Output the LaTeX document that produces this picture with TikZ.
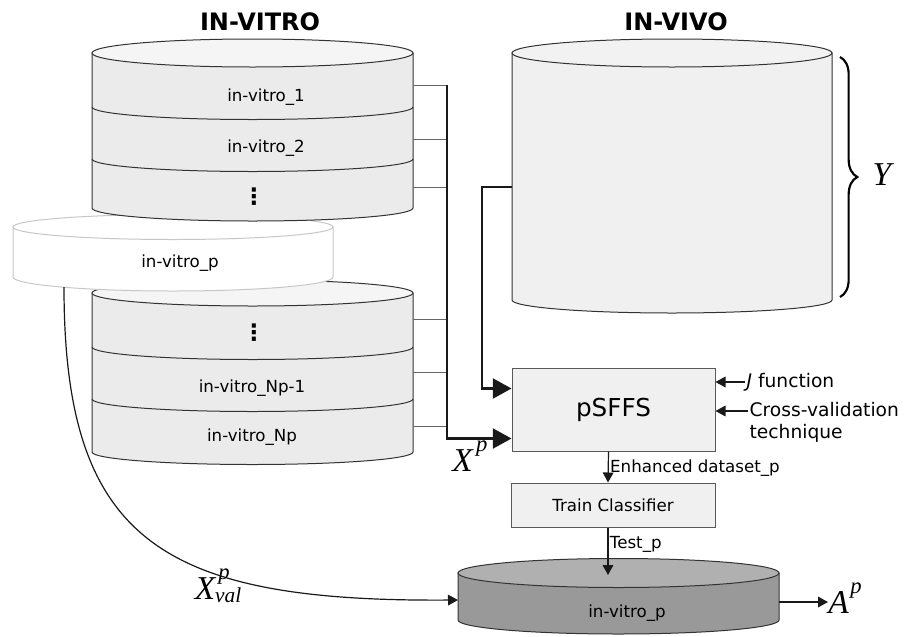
\documentclass[tikz,border=0pt]{standalone}
\usepackage{fontspec}
\setmainfont{DejaVu Sans}
\newfontfamily\varfont{Liberation Serif}
\usetikzlibrary{arrows.meta,decorations.pathreplacing}

\begin{document}
\begin{tikzpicture}[x=0.75pt, y=-0.75pt,
  cyl/.style={draw=black!80, line width=0.75pt},
  lbl/.style={font=\fontsize{12.5}{15}\selectfont, inner sep=1pt},
  dots/.style={font=\bfseries\fontsize{17}{17}\selectfont, inner sep=0pt},
  ttl/.style={font=\bfseries\fontsize{18}{20}\selectfont},
  sidelbl/.style={font=\fontsize{14}{16.5}\selectfont, inner sep=1pt, anchor=west, align=left},
  var/.style={font=\varfont\itshape\fontsize{25}{25}\selectfont, inner sep=0pt},
  box/.style={draw=black!65, fill=black!6, line width=0.75pt, font=\fontsize{12.5}{15}\selectfont},
  stub/.style={draw=black!60, line width=0.75pt},
  bus/.style={draw=black!90, line width=1.6pt, -{Triangle[length=14pt,width=15pt]}},
  arr/.style={draw=black!90, line width=0.9pt, -{Triangle[length=7.5pt,width=8pt]}},
  brc/.style={decorate, decoration={brace, amplitude=13pt}, line width=1.6pt}]
  \useasboundingbox (0,0) rectangle (907,636);

  % titles
  \node[ttl] (tvitro) at (260,22) {IN-VITRO};
  \node[ttl] (tvivo) at (676,22) {IN-VIVO};

  % lower in-vitro stack
  \path[cyl, fill=black!8] (92,293) -- (92,452) arc[start angle=180, end angle=0, x radius=160.5, y radius=12.5] -- (413,293) -- cycle;
  \draw[cyl] (92,347) arc[start angle=180, end angle=0, x radius=160.5, y radius=12.5];
  \draw[cyl] (92,399) arc[start angle=180, end angle=0, x radius=160.5, y radius=12.5];
  \path[cyl, fill=black!4] (252.5,293) ellipse[x radius=160.5, y radius=13];

  % the p-th dataset, taken out
  \path[draw=black!22, line width=0.75pt, fill=white] (13,227) -- (13,277) arc[start angle=180, end angle=0, x radius=160, y radius=14] -- (333,227) -- cycle;
  \path[draw=black!22, line width=0.75pt, fill=white] (173,227) ellipse[x radius=160, y radius=12.5];

  % upper in-vitro stack
  \path[cyl, fill=black!8] (92,53) -- (92,208) arc[start angle=180, end angle=0, x radius=160.5, y radius=13] -- (413,53) -- cycle;
  \draw[cyl] (92,107) arc[start angle=180, end angle=0, x radius=160.5, y radius=12.5];
  \draw[cyl] (92,159) arc[start angle=180, end angle=0, x radius=160.5, y radius=12.5];
  \path[cyl, fill=black!4] (252.5,53) ellipse[x radius=160.5, y radius=14];

  % in-vivo
  \path[cyl, fill=black!6] (512,53) -- (512,300) arc[start angle=180, end angle=0, x radius=160, y radius=13] -- (832,53) -- cycle;
  \path[cyl, fill=black!5] (672,53) ellipse[x radius=160, y radius=14];

  % validation set
  \path[cyl, fill=black!40] (458,573) -- (458,620) arc[start angle=180, end angle=0, x radius=160.5, y radius=14] -- (779,573) -- cycle;
  \path[cyl, fill=black!31] (618.5,573) ellipse[x radius=160.5, y radius=14.5];

  \node[lbl] (v1) at (266,97) {in-vitro\_1};
  \node[lbl] (v2) at (266,148) {in-vitro\_2};
  \node[dots] (vd1) at (254,197) {⋮};
  \node[lbl] (vp) at (180,263) {in-vitro\_p};
  \node[dots] (vd2) at (254,333) {⋮};
  \node[lbl] (vn1) at (252,388) {in-vitro\_Np-1};
  \node[lbl] (vn) at (252,437) {in-vitro\_Np};
  \node[lbl] (vval) at (627,613) {in-vitro\_p};

  \node[box, minimum width=152.25pt, minimum height=62.25pt, font=\fontsize{18.5}{20}\selectfont] (psffs) at (613.5,409.5) {pSFFS};
  \node[box, minimum width=153pt, minimum height=33pt] (train) at (613,505) {Train Classifier};

  \node[sidelbl] (jfun) at (745,382) {\textit{J} function};
  \node[sidelbl] (cv) at (748,422) {Cross-validation\\technique};

  \node[var] (xp) at (470,456) {X\kern0.1em\raisebox{0.6em}{\fontsize{17}{17}\selectfont p}};
  \node[var] (xval) at (218,586) {X\rlap{\kern0.1em\raisebox{0.6em}{\fontsize{17}{17}\selectfont p}}\raisebox{-0.1em}{\fontsize{16}{16}\selectfont val}};
  \node[var, anchor=west] (ap) at (828,598) {A\kern0.05em\raisebox{0.6em}{\fontsize{17}{17}\selectfont p}};
  \node[var] (ylbl) at (882,175) {Y};

  \coordinate (s1) at (413,85);
  \coordinate (s2) at (413,139);
  \coordinate (s3) at (413,187);
  \coordinate (s4) at (413,319);
  \coordinate (s5) at (413,372);
  \coordinate (s6) at (413,426);
  \coordinate (bus) at (447,85);
  \coordinate (vivo) at (512,187);
  \coordinate (cvin) at ([shift={(0,-11)}]cv.west);
  \coordinate (ptop) at (608,575);
  \coordinate (pleft) at (458,600);
  \coordinate (pright) at (779,602);
  \coordinate (pout) at (64,287);
  \coordinate (btop) at (840,57);
  \coordinate (bbot) at (840,297);

  \draw[stub] (s1) -- (s1 -| bus);
  \draw[stub] (s2) -- (s2 -| bus);
  \draw[stub] (s3) -- (s3 -| bus);
  \draw[stub] (s4) -- (s4 -| bus);
  \draw[stub] (s5) -- (s5 -| bus);
  \draw[stub] (s6) -- (s6 -| bus);
  \draw[bus] (bus) |- ([shift={(0,-13)}]psffs.south west);
  \draw[bus] (vivo) -- ++(-30,0) |- ([shift={(0,21)}]psffs.north west);

  \draw[arr] (jfun.west) -- (jfun.west -| psffs.east);
  \draw[arr] (cvin) -- (cvin -| psffs.east);
  \draw[arr] ([xshift=-3.75pt]psffs.south) -- node[lbl, right, pos=.55] (enh) {Enhanced dataset\_p} ([xshift=-3.75pt]train.north);
  \draw[arr] ([xshift=-3.75pt]train.south) -- node[lbl, right, pos=.35] (tst) {Test\_p} (ptop);
  \draw[arr] (pright) -- (pright -| ap.west);
  \draw[arr] (pout) .. controls (64,541) and (162,602) .. (pleft);
  \draw[brc] (btop) -- (bbot);
\end{tikzpicture}
\end{document}
